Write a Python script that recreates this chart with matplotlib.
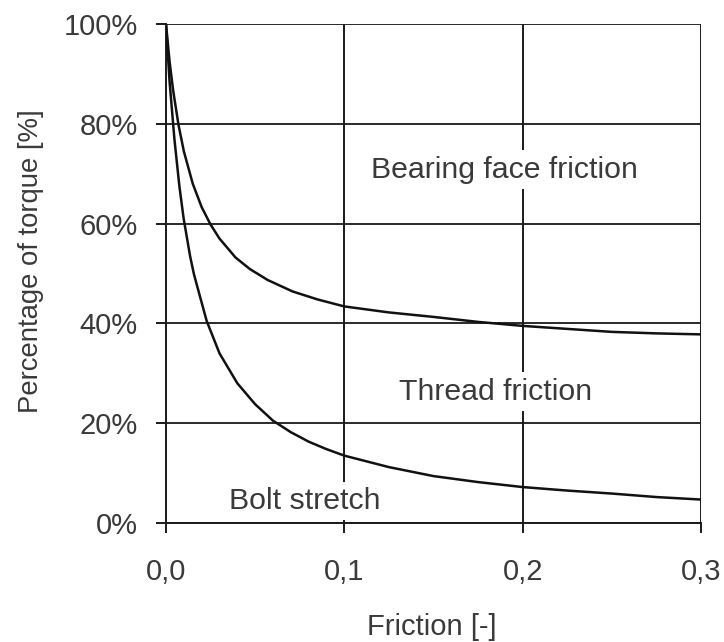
import matplotlib
matplotlib.use("Agg")
import matplotlib.pyplot as plt
from matplotlib.ticker import FuncFormatter

# Upper boundary (bolt stretch + thread friction), percent
upper_x = [0.0, 0.002, 0.004, 0.007, 0.010, 0.015, 0.020, 0.025, 0.030, 0.039,
           0.047, 0.057, 0.071, 0.085, 0.100, 0.125, 0.150, 0.175, 0.200,
           0.225, 0.250, 0.275, 0.300]
upper_y = [100.0, 92.5, 86.7, 79.8, 74.5, 68.0, 63.3, 59.8, 57.0, 53.2,
           50.9, 48.7, 46.4, 44.8, 43.4, 42.2, 41.3, 40.3, 39.5,
           38.9, 38.3, 38.0, 37.8]

# Lower boundary (bolt stretch), percent
lower_x = [0.0, 0.002, 0.0047, 0.0075, 0.0099, 0.0135, 0.0157, 0.0228, 0.030,
           0.040, 0.050, 0.060, 0.070, 0.080, 0.090, 0.100, 0.125, 0.150,
           0.175, 0.200, 0.225, 0.250, 0.275, 0.300]
lower_y = [100.0, 88.5, 77.0, 67.5, 61.0, 53.5, 49.8, 40.5, 34.0,
           28.0, 23.8, 20.5, 18.2, 16.3, 14.8, 13.5, 11.2, 9.4,
           8.2, 7.2, 6.5, 5.9, 5.2, 4.7]

x_ticks = [0.0, 0.1, 0.2, 0.3]
y_ticks = [0, 20, 40, 60, 80, 100]

labels = ["Bearing face friction", "Thread friction", "Bolt stretch"]
label_x = [0.190, 0.185, 0.078]
label_y = [70.8, 26.3, 4.4]

plt.rcParams['font.family'] = ['Liberation Sans', 'DejaVu Sans']
text_color = '#3a3a3a'
W, H = 724, 642

fig = plt.figure(figsize=(W / 100, H / 100), dpi=100)
ax = fig.add_axes([166 / W, 1 - 523 / H, (701 - 166) / W, (523 - 24) / H])

for yv in y_ticks:
    ax.axhline(yv, color='#2a2a2a', lw=1.4, zorder=1)
for xv in x_ticks[1:]:
    ax.axvline(xv, color='#1a1a1a', lw=1.4, zorder=1)

ax.plot(upper_x, upper_y, color='#111111', lw=1.8, zorder=3)
ax.plot(lower_x, lower_y, color='#111111', lw=1.8, zorder=3)

for t, tx, ty in zip(labels, label_x, label_y):
    ax.text(tx, ty, t, ha='center', va='center', fontsize=21.8, color=text_color,
            zorder=4, bbox=dict(facecolor='white', edgecolor='none', pad=4))

ax.set_xlim(0, 0.3)
ax.set_ylim(0, 100)
ax.set_xticks(x_ticks)
ax.set_yticks(y_ticks)
ax.xaxis.set_major_formatter(FuncFormatter(lambda v, p: f"{v:.1f}".replace('.', ',')))
ax.yaxis.set_major_formatter(FuncFormatter(lambda v, p: f"{int(round(v))}%"))

for s in ['top', 'right']:
    ax.spines[s].set_visible(False)
for s in ['left', 'bottom']:
    ax.spines[s].set_color('#1a1a1a')
    ax.spines[s].set_linewidth(1.4)

ax.tick_params(axis='both', direction='out', length=7.5, width=1.4, color='#1a1a1a',
               labelsize=21, labelcolor=text_color)
ax.tick_params(axis='y', pad=13)
ax.tick_params(axis='x', pad=18)

fig.text(432 / W, 1 - 627 / H, "Friction [-]", fontsize=21, color=text_color,
         ha='center', va='center')
fig.text(31 / W, 1 - 261 / H, "Percentage of torque [%]", fontsize=19.8,
         color=text_color, ha='center', va='center', rotation=90)

fig.savefig("out.png", dpi=100, facecolor='white')
